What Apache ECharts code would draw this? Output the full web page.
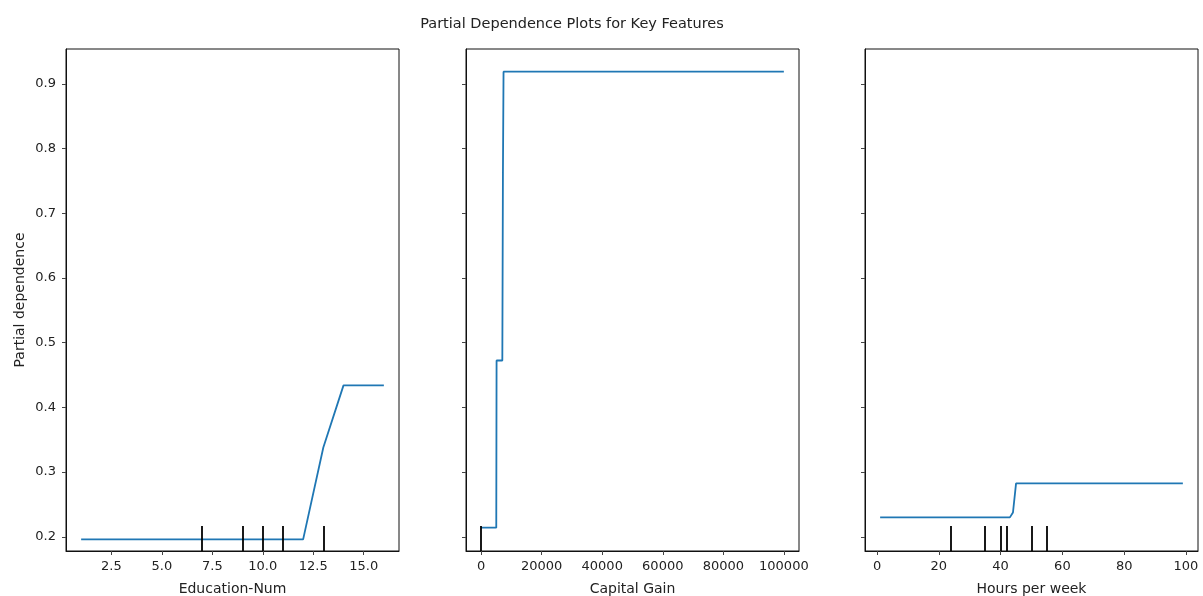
<!DOCTYPE html>
<html>
<head>
<meta charset="utf-8">
<script src="https://cdn.jsdelivr.net/npm/echarts@6/dist/echarts.min.js"></script>
<style>
  html, body { margin: 0; padding: 0; background: #fff; }
  #main { width: 1203px; height: 596px; }
</style>
</head>
<body>
<div id="main"></div>
<script>
// -- data --
let titleText = 'Partial Dependence Plots for Key Features';
let yName = 'Partial dependence';
let yTicks = [0.2, 0.3, 0.4, 0.5, 0.6, 0.7, 0.8, 0.9];
let yMin = 0.178;
let yMax = 0.954;

// Education-Num
let eduX = [1, 2, 3, 4, 5, 6, 7, 8, 9, 10, 11, 12, 13, 14, 15, 16];
let eduPd = [0.196, 0.196, 0.196, 0.196, 0.196, 0.196, 0.196, 0.196, 0.196, 0.196, 0.196, 0.196, 0.338, 0.434, 0.434, 0.434];
let eduDeciles = [7, 9, 10, 11, 13];
let eduTicks = [2.5, 5, 7.5, 10, 12.5, 15];

// Capital Gain
let gainX = [0, 5000, 5100, 7000, 7200, 7400, 99999];
let gainPd = [0.214, 0.214, 0.4725, 0.4725, 0.763, 0.919, 0.919];
let gainDeciles = [0];
let gainTicks = [0, 20000, 40000, 60000, 80000, 100000];

// Hours per week
let hoursX = [1, 43, 44, 45, 99];
let hoursPd = [0.230, 0.230, 0.2375, 0.2824, 0.2824];
let hoursDeciles = [24, 35, 40, 42, 50, 55];
let hoursTicks = [0, 20, 40, 60, 80, 100];

let panels = [
  {name: 'Education-Num', x: eduX, y: eduPd, deciles: eduDeciles, ticks: eduTicks, min: 0.25, max: 16.75, fmt: v => v.toFixed(1), left: 66},
  {name: 'Capital Gain', x: gainX, y: gainPd, deciles: gainDeciles, ticks: gainTicks, min: -5000, max: 105000, fmt: v => String(v), left: 466},
  {name: 'Hours per week', x: hoursX, y: hoursPd, deciles: hoursDeciles, ticks: hoursTicks, min: -3.9, max: 103.9, fmt: v => String(v), left: 865}
];

let font = 'DejaVu Sans';
let textColor = '#222';
// deciles are drawn over the bottom 5% of the axes, like matplotlib
let decileTop = yMin + 0.05 * (yMax - yMin);

let grids = [], xAxes = [], yAxes = [], series = [];
panels.forEach(function (p, i) {
  grids.push({
    left: p.left, width: 333, top: 49, bottom: 45,
    outerBoundsMode: 'none',
    show: true, borderColor: '#111', borderWidth: 1, containLabel: false
  });
  xAxes.push({
    gridIndex: i, type: 'value', min: p.min, max: p.max,
    name: p.name, nameLocation: 'middle', nameGap: 31,
    nameTextStyle: {fontFamily: font, fontSize: 14, color: textColor},
    axisLine: {show: true, onZero: false, lineStyle: {color: '#111'}},
    axisTick: {show: true, length: 4, customValues: p.ticks, lineStyle: {color: '#444'}},
    axisLabel: {show: true, customValues: p.ticks, formatter: p.fmt, margin: 9,
                fontFamily: font, fontSize: 13, color: textColor},
    splitLine: {show: false}
  });
  yAxes.push({
    gridIndex: i, type: 'value', min: yMin, max: yMax,
    name: i === 0 ? yName : '', nameLocation: 'middle', nameGap: 39,
    nameTextStyle: {fontFamily: font, fontSize: 14, color: textColor},
    axisLine: {show: true, onZero: false, lineStyle: {color: '#111'}},
    axisTick: {show: true, length: 4, customValues: yTicks, lineStyle: {color: '#444'}},
    axisLabel: {show: i === 0, customValues: yTicks, formatter: v => v.toFixed(1), margin: 10,
                fontFamily: font, fontSize: 13, color: textColor},
    splitLine: {show: false}
  });
  series.push({
    type: 'line', xAxisIndex: i, yAxisIndex: i,
    data: p.x.map((x, k) => [x, p.y[k]]),
    showSymbol: false, symbol: 'none', silent: true,
    lineStyle: {color: '#1f77b4', width: 1.8},
    markLine: {
      silent: true, symbol: 'none', animation: false,
      label: {show: false},
      lineStyle: {color: '#000', width: 1.8, type: 'solid'},
      data: p.deciles.map(d => [{coord: [d, yMin]}, {coord: [d, decileTop]}])
    }
  });
});

let myChart = echarts.init(document.getElementById('main'), null, {renderer: 'canvas'});
myChart.setOption({
  animation: false,
  backgroundColor: '#fff',
  title: {
    text: titleText, left: 567, top: 12, textAlign: 'center',
    textStyle: {fontFamily: font, fontSize: 14.5, fontWeight: 'normal', color: textColor}
  },
  grid: grids,
  xAxis: xAxes,
  yAxis: yAxes,
  series: series
});
</script>
</body>
</html>
